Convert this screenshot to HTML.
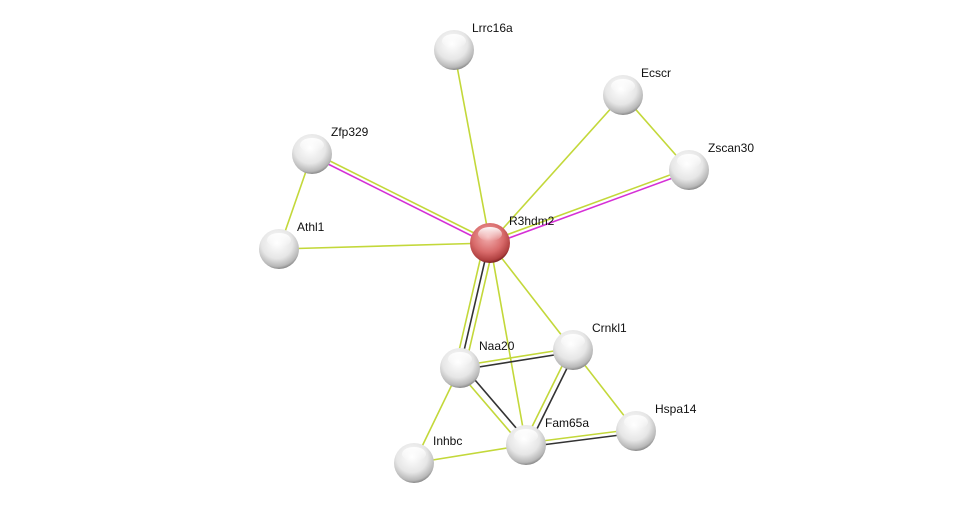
<!DOCTYPE html>
<html><head><style>
html,body{margin:0;padding:0;background:#fff;}
svg{display:block;}
text{font-family:"Liberation Sans",sans-serif;font-size:12px;fill:#111;}
</style></head><body>
<svg width="976" height="508" viewBox="0 0 976 508" xmlns="http://www.w3.org/2000/svg">
<defs>
<radialGradient id="g" cx="45%" cy="35%" r="65%">
<stop offset="0" stop-color="#ffffff"/><stop offset="0.6" stop-color="#e6e6e6"/><stop offset="0.9" stop-color="#b8b8b8"/><stop offset="1" stop-color="#8a8a8a"/>
</radialGradient>
<radialGradient id="r" cx="45%" cy="35%" r="65%">
<stop offset="0" stop-color="#f3b0b0"/><stop offset="0.6" stop-color="#d86a6a"/><stop offset="0.9" stop-color="#b04040"/><stop offset="1" stop-color="#7a2222"/>
</radialGradient>
<linearGradient id="hl" x1="0" y1="0" x2="0" y2="1"><stop offset="0" stop-color="#fff" stop-opacity="0.95"/><stop offset="1" stop-color="#fff" stop-opacity="0"/></linearGradient>
</defs>
<g stroke-width="1.6" fill="none">
<line x1="454" y1="50" x2="490" y2="243" stroke="#c3d83a"/>
<line x1="623" y1="95" x2="490" y2="243" stroke="#c3d83a"/>
<line x1="623" y1="95" x2="689" y2="170" stroke="#c3d83a"/>
<line x1="312" y1="154" x2="279" y2="249" stroke="#c3d83a"/>
<line x1="279" y1="249" x2="490" y2="243" stroke="#c3d83a"/>
<line x1="312" y1="152" x2="490" y2="241" stroke="#c3d83a"/>
<line x1="312" y1="156" x2="490" y2="245" stroke="#d630d6"/>
<line x1="689" y1="168" x2="490" y2="241" stroke="#c3d83a"/>
<line x1="689" y1="172" x2="490" y2="245" stroke="#d630d6"/>
<line x1="490" y1="243" x2="573" y2="350" stroke="#c3d83a"/>
<line x1="490" y1="243" x2="526" y2="445" stroke="#c3d83a"/>
<line x1="484" y1="243" x2="455" y2="368" stroke="#c3d83a"/>
<line x1="489" y1="243" x2="460" y2="368" stroke="#333"/>
<line x1="494" y1="243" x2="465" y2="368" stroke="#c3d83a"/>
<line x1="460" y1="366" x2="573" y2="348" stroke="#c3d83a"/>
<line x1="460" y1="370" x2="573" y2="352" stroke="#333"/>
<line x1="457" y1="370" x2="523" y2="447" stroke="#c3d83a"/>
<line x1="463" y1="366" x2="529" y2="443" stroke="#333"/>
<line x1="570" y1="350" x2="523" y2="445" stroke="#c3d83a"/>
<line x1="576" y1="350" x2="529" y2="445" stroke="#333"/>
<line x1="526" y1="443" x2="636" y2="429" stroke="#c3d83a"/>
<line x1="526" y1="447" x2="636" y2="433" stroke="#333"/>
<line x1="573" y1="350" x2="636" y2="431" stroke="#c3d83a"/>
<line x1="460" y1="368" x2="414" y2="463" stroke="#c3d83a"/>
<line x1="414" y1="463" x2="526" y2="445" stroke="#c3d83a"/>
</g>
<g>
<g transform="translate(454,50)"><circle r="20" fill="url(#g)"/><ellipse cy="-9" rx="12" ry="7" fill="url(#hl)"/></g>
<g transform="translate(623,95)"><circle r="20" fill="url(#g)"/><ellipse cy="-9" rx="12" ry="7" fill="url(#hl)"/></g>
<g transform="translate(689,170)"><circle r="20" fill="url(#g)"/><ellipse cy="-9" rx="12" ry="7" fill="url(#hl)"/></g>
<g transform="translate(312,154)"><circle r="20" fill="url(#g)"/><ellipse cy="-9" rx="12" ry="7" fill="url(#hl)"/></g>
<g transform="translate(279,249)"><circle r="20" fill="url(#g)"/><ellipse cy="-9" rx="12" ry="7" fill="url(#hl)"/></g>
<g transform="translate(490,243)"><circle r="20" fill="url(#r)"/><ellipse cy="-9" rx="12" ry="7" fill="url(#hl)"/></g>
<g transform="translate(573,350)"><circle r="20" fill="url(#g)"/><ellipse cy="-9" rx="12" ry="7" fill="url(#hl)"/></g>
<g transform="translate(460,368)"><circle r="20" fill="url(#g)"/><ellipse cy="-9" rx="12" ry="7" fill="url(#hl)"/></g>
<g transform="translate(636,431)"><circle r="20" fill="url(#g)"/><ellipse cy="-9" rx="12" ry="7" fill="url(#hl)"/></g>
<g transform="translate(526,445)"><circle r="20" fill="url(#g)"/><ellipse cy="-9" rx="12" ry="7" fill="url(#hl)"/></g>
<g transform="translate(414,463)"><circle r="20" fill="url(#g)"/><ellipse cy="-9" rx="12" ry="7" fill="url(#hl)"/></g>
</g>
<text x="472" y="32">Lrrc16a</text>
<text x="641" y="77">Ecscr</text>
<text x="708" y="152">Zscan30</text>
<text x="331" y="136">Zfp329</text>
<text x="297" y="231">Athl1</text>
<text x="509" y="225">R3hdm2</text>
<text x="592" y="332">Crnkl1</text>
<text x="479" y="350">Naa20</text>
<text x="655" y="413">Hspa14</text>
<text x="545" y="427">Fam65a</text>
<text x="433" y="445">Inhbc</text>
</svg>
</body></html>
